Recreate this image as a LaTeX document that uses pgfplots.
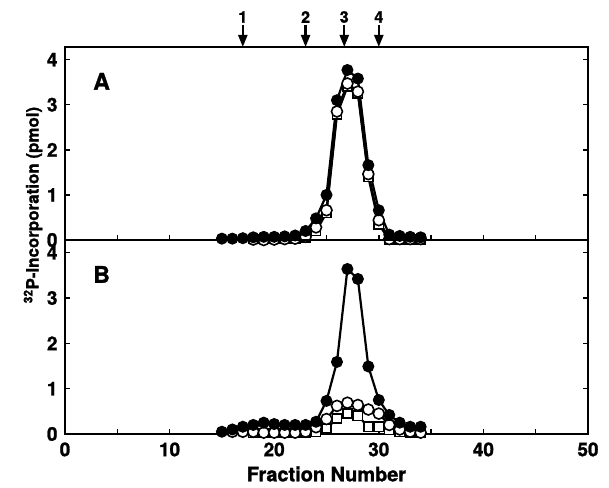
\documentclass[border=0pt]{standalone}
\usepackage{fontspec}
\setmainfont{TeX Gyre Heros}[BoldFeatures={FakeBold=1.3}]
\usepackage{pgfplots}
\pgfplotsset{compat=1.18}
\usetikzlibrary{arrows.meta}

% fraction profiles
\pgfplotstableread{
x y
15 0.03
16 0.03
17 0.04
18 0.06
19 0.07
20 0.07
21 0.08
22 0.10
23 0.20
24 0.48
25 1.00
26 3.10
27 3.77
28 3.58
29 1.66
30 0.66
31 0.12
32 0.09
33 0.07
34 0.06
}\Afilled
\pgfplotstableread{
x y
18 0.01
19 0.00
20 0.01
21 0.02
22 0.03
23 0.07
24 0.28
25 0.66
26 2.85
27 3.47
28 3.29
29 1.46
30 0.44
31 0.02
32 0.02
33 0.02
34 0.02
}\Aopen
\pgfplotstableread{
x y
18 0.02
19 0.02
20 0.02
21 0.02
22 0.03
23 0.05
24 0.20
25 0.60
26 2.78
27 3.40
28 3.25
29 1.40
30 0.35
31 0.00
32 0.01
33 0.01
34 0.01
}\Asquare
\pgfplotstableread{
x y
15 0.05
16 0.10
17 0.16
18 0.20
19 0.25
20 0.22
21 0.20
22 0.20
23 0.20
24 0.27
25 0.73
26 1.59
27 3.64
28 3.42
29 1.49
30 0.75
31 0.42
32 0.25
33 0.16
34 0.16
}\Bfilled
\pgfplotstableread{
x y
16 0.05
17 0.05
18 0.05
19 0.03
20 0.03
21 0.03
22 0.03
23 0.05
24 0.15
25 0.33
26 0.62
27 0.69
28 0.64
29 0.54
30 0.45
31 0.20
32 0.10
33 0.05
34 0.03
}\Bopen
\pgfplotstableread{
x y
18 0.02
19 0.02
20 0.02
21 0.02
22 0.02
23 0.03
24 0.05
25 0.12
26 0.34
27 0.45
28 0.40
29 0.16
30 0.16
31 0.09
32 0.05
33 0.03
34 0.02
}\Bsquare

\pgfplotsset{
  panel/.style={
    scale only axis, width=523bp,
    xmin=0, xmax=50, ymin=0, ymax=4.28,
    clip=false,
    axis line style={line width=1.7bp},
    every tick/.style={line width=1.5bp, black},
    major tick length=5bp, minor tick length=5bp,
    tick align=inside,
    xtick={0,10,...,50}, minor xtick={5,15,...,45},
    xtick pos=left, ytick pos=both,
    ytick={0,1,2,3,4},
    ticklabel style={font=\fontsize{19}{19}\selectfont\bfseries},
    yticklabel style={xshift=-4bp},
    xticklabel style={yshift=-5bp},
    /pgf/number format/assume math mode=true,
  },
}
\tikzset{
  filled/.style={black, line width=2.2bp, mark=*, mark size=5.5bp,
    mark options={fill=black, line width=1bp}},
  opencirc/.style={black, line width=2.2bp, mark=*, mark size=5.5bp,
    mark options={fill=white, line width=1.6bp}},
  opensq/.style={black, line width=2.2bp, mark=square*, mark size=4.6bp,
    mark options={fill=white, line width=1.6bp}},
  peak/.style={line width=2.2bp, -{Triangle[length=12bp,width=9bp]}},
  peaklab/.style={font=\fontsize{16}{16}\selectfont\bfseries, yshift=30bp},
}

\begin{document}
\begin{tikzpicture}
\useasboundingbox (0,0) rectangle (609bp,488bp);

% panel A
\begin{axis}[panel, at={(65bp,248bp)}, anchor=south west, height=193bp,
    xticklabels={}]
\addplot[opensq] table {\Asquare};
\addplot[opencirc] table {\Aopen};
\addplot[filled] table {\Afilled};
\node[font=\fontsize{23}{23}\selectfont\bfseries] at (axis cs:3.5,3.52) {A};
% marker arrows above the panel
\draw[peak] (axis cs:17,4.28) ++(0,22bp) -- (axis cs:17,4.28);
\draw[peak] (axis cs:23,4.28) ++(0,22bp) -- (axis cs:23,4.28);
\draw[peak] (axis cs:26.7,4.28) ++(0,22bp) -- (axis cs:26.7,4.28);
\draw[peak] (axis cs:30,4.28) ++(0,22bp) -- (axis cs:30,4.28);
\node[peaklab] at (axis cs:17,4.28) {1};
\node[peaklab] at (axis cs:23,4.28) {2};
\node[peaklab] at (axis cs:26.7,4.28) {3};
\node[peaklab] at (axis cs:30,4.28) {4};
\end{axis}

% panel B
\begin{axis}[panel, at={(65bp,54bp)}, anchor=south west, height=194bp]
\addplot[opensq] table {\Bsquare};
\addplot[opencirc] table {\Bopen};
\addplot[filled] table {\Bfilled};
\node[font=\fontsize{23}{23}\selectfont\bfseries] at (axis cs:3.5,3.52) {B};
\end{axis}

\node[rotate=90, font=\fontsize{17}{17}\selectfont\bfseries] at (33bp,283bp)
  {\textsuperscript{32}P-Incorporation (pmol)};
\node[font=\fontsize{20}{20}\selectfont\bfseries] at (326.5bp,14bp) {Fraction Number};
\end{tikzpicture}
\end{document}
